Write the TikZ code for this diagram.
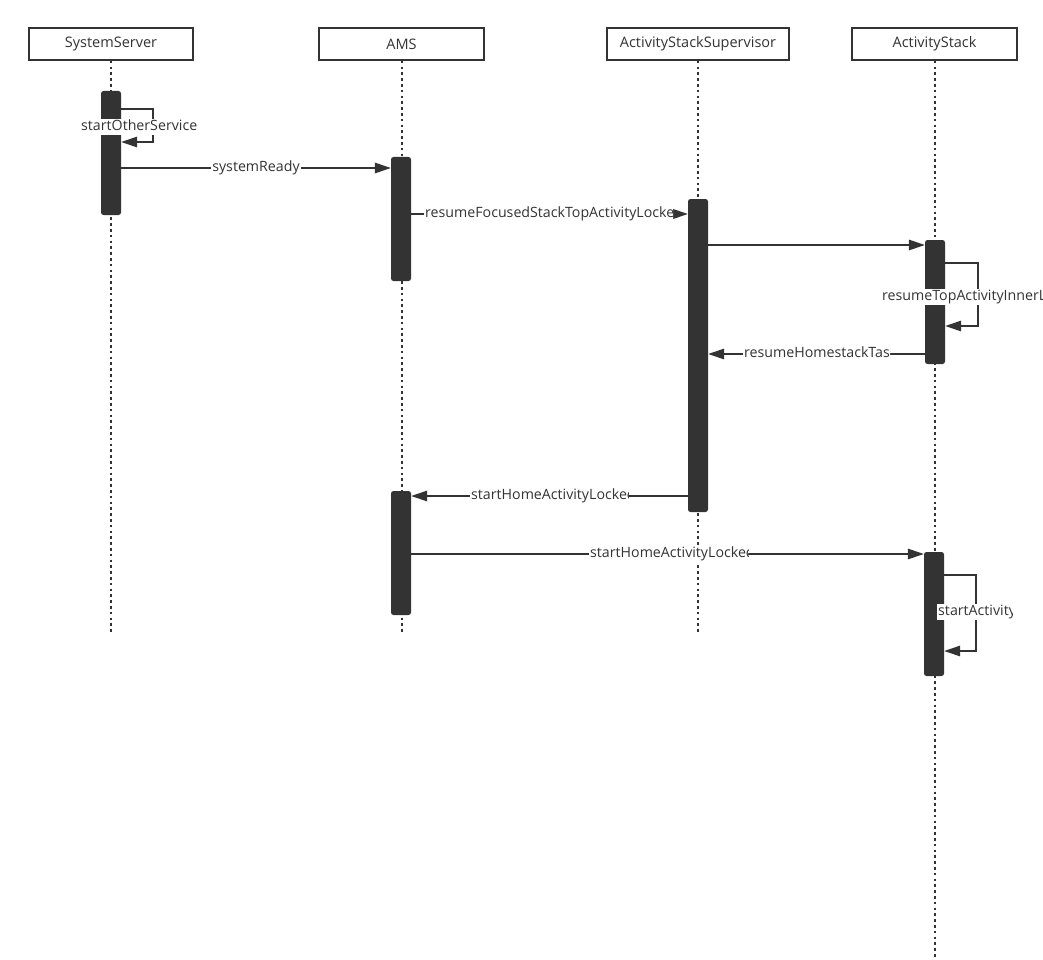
\documentclass[tikz,border=0pt]{standalone}
\usepackage{fontspec}
\setmainfont{Open Sans}
\usetikzlibrary{arrows.meta}
\definecolor{dk}{HTML}{333333}
\begin{document}
\begin{tikzpicture}[x=1pt,y=-1pt,
  head/.style={draw=dk,line width=1.6pt,fill=white,minimum height=32pt,inner sep=0pt,text=dk,font=\fontsize{14.5}{16}\selectfont},
  life/.style={draw=dk,line width=2pt,dash pattern=on 2.6pt off 3.2pt},
  bar/.style={fill=dk,draw=none,rounded corners=2.5pt,minimum width=20pt,inner sep=0pt},
  msg/.style={draw=dk,line width=1.5pt,-{Triangle[length=16pt,width=10.5pt]}},
  lbl/.style={fill=white,inner sep=1pt,text=dk,text height=11pt,text depth=3.5pt,font=\fontsize{14.2}{15}\selectfont}]
\useasboundingbox[fill=white] (0,0) rectangle (1043,960);
% headers
\node[head,minimum width=164pt] (hss) at (111,44) {SystemServer};
\node[head,minimum width=165pt] (hams) at (401.5,44) {AMS};
\node[head,minimum width=182pt] (hass) at (698,44) {ActivityStackSupervisor};
\node[head,minimum width=165pt] (has) at (934.5,44) {ActivityStack};
% lifeline ends
\coordinate (ess) at (111,632);
\coordinate (eams) at (401.5,632);
\coordinate (eass) at (698,632);
\coordinate (eas) at (934.5,960);
\draw[life] (hss.south) -- (ess);
\draw[life] (hams.south) -- (eams);
\draw[life] (hass.south) -- (eass);
\draw[life] (has.south) -- (eas);
% activation bars
\node[bar,minimum height=124pt] (ss1) at (111,153) {};
\node[bar,minimum height=124pt] (ams1) at (401,219) {};
\node[bar,minimum height=313pt] (ass1) at (698,355.5) {};
\node[bar,minimum height=124pt] (as1) at (935,302) {};
\node[bar,minimum height=124pt] (ams2) at (401,553) {};
\node[bar,minimum height=124pt] (as2) at (934,614) {};
% messages
\draw[msg] (ss1.east |- 0,109) -- ++(32,0) |- (ss1.east |- 0,142);
\begin{scope}
  \clip (79,116) rectangle (211,138);
  \node[lbl,anchor=west] (l1) at (80,127) {startOtherService};
\end{scope}
\draw[msg] (ss1.east |- 0,168) -- node[lbl] (l2) {systemReady} (ams1.west |- 0,168);
\draw[msg] (ams1.east |- 0,214) -- (ass1.west |- 0,214);
\begin{scope}
  \clip (424,204) rectangle (673,224);
  \node[lbl,anchor=west] (l3) at (424,214) {resumeFocusedStackTopActivityLocked};
\end{scope}
\draw[msg] (ass1.east |- 0,245) -- (as1.west |- 0,245);
\draw[msg] (as1.east |- 0,263) -- ++(33,0) |- (as1.east |- 0,326);
\begin{scope}
  \clip (880,286) rectangle (1043,306);
  \node[lbl,anchor=west] (l4) at (881,297) {resumeTopActivityInnerLocked};
\end{scope}
\draw[msg] (as1.west |- 0,354) -- (ass1.east |- 0,354);
\begin{scope}
  \clip (743,344) rectangle (890,364);
  \node[lbl,anchor=west] (l5) at (743,354) {resumeHomestackTask};
\end{scope}
\draw[msg] (ass1.west |- 0,496) -- (ams2.east |- 0,496);
\begin{scope}
  \clip (470,486) rectangle (628,506);
  \node[lbl,anchor=west] (l6) at (470,496) {startHomeActivityLocked};
\end{scope}
\draw[msg] (ams2.east |- 0,554) -- (as2.west |- 0,554);
\begin{scope}
  \clip (589,544) rectangle (748,564);
  \node[lbl,anchor=west] (l7) at (589,554) {startHomeActivityLocked};
\end{scope}
\draw[msg] (as2.east |- 0,575) -- ++(32,0) |- (as2.east |- 0,651);
\begin{scope}
  \clip (937,602) rectangle (1012,622);
  \node[lbl,anchor=west] (l8) at (937,612) {startActivityLocked};
\end{scope}
\end{tikzpicture}
\end{document}
